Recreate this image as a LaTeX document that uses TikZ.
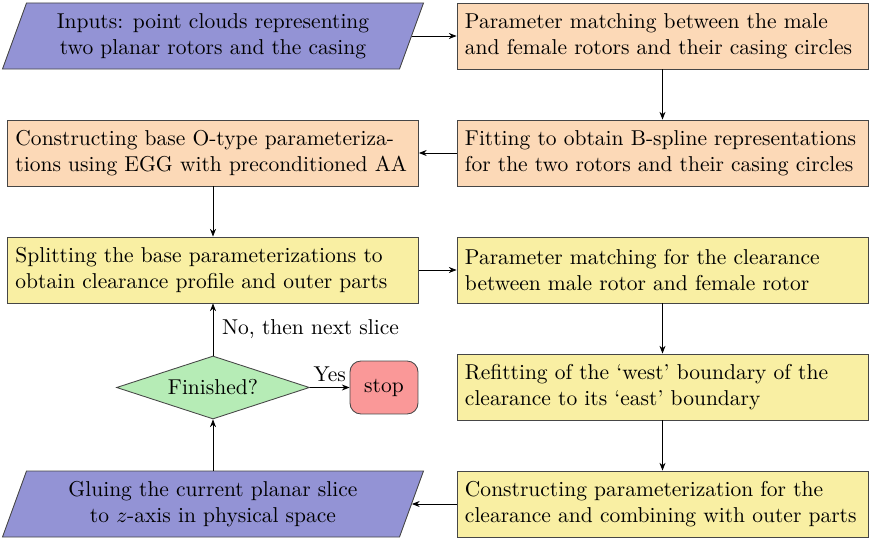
\documentclass[tikz,border=0pt]{standalone}
\usetikzlibrary{shapes.geometric,arrows.meta}
\definecolor{ioblue}{RGB}{147,147,213}
\definecolor{procorange}{RGB}{252,217,183}
\definecolor{procyellow}{RGB}{249,239,163}
\definecolor{decgreen}{RGB}{182,236,182}
\definecolor{stopred}{RGB}{250,152,152}
\definecolor{edgegray}{RGB}{70,70,70}
\tikzset{
  txt/.style={font=\fontsize{10}{12}\selectfont},
  box/.style={rectangle, draw=edgegray, minimum width=191.1pt, minimum height=30.7pt,
    text width=183.7pt, inner xsep=3.7pt, align=left, txt},
  orangebox/.style={box, fill=procorange},
  yellowbox/.style={box, fill=procyellow},
  iolabel/.style={rectangle, inner sep=0pt, minimum width=184.6pt, minimum height=30.7pt,
    align=center, txt},
  iofill/.style={draw=edgegray, fill=ioblue},
  decision/.style={diamond, draw=edgegray, fill=decgreen, aspect=3, inner sep=0pt,
    minimum width=89.7pt, minimum height=29.3pt, txt},
  stopbox/.style={rectangle, rounded corners=5pt, draw=edgegray, fill=stopred,
    minimum width=31.6pt, minimum height=24.6pt, txt},
  conn/.style={-{Stealth[length=3.6pt,width=2.8pt]}, black},
  lbl/.style={txt}
}
\begin{document}
\begin{tikzpicture}[x=0.465pt, y=-0.465pt]
\useasboundingbox (0,0) rectangle (870,543);
% input parallelogram
\filldraw[iofill] (2.5,69) -- (26.5,3) -- (423.5,3) -- (399.5,69) -- cycle;
\node[iolabel] (in) at (213,36) {Inputs: point clouds representing\\two planar rotors and the casing};
% gluing parallelogram
\filldraw[iofill] (2.5,537) -- (26.5,471) -- (423.5,471) -- (399.5,537) -- cycle;
\node[iolabel] (glue) at (213,504) {Gluing the current planar slice\\to $z$-axis in physical space};

\node[orangebox] (b2) at (662.5,36) {Parameter matching between the male\\and female rotors and their casing circles};
\node[orangebox] (b3) at (662.5,153) {Fitting to obtain B-spline representations\\for the two rotors and their casing circles};
\node[orangebox] (b4) at (213,153) {Constructing base O-type parameteriza-\\tions using EGG with preconditioned AA};
\node[yellowbox] (b5) at (213,270) {Splitting the base parameterizations to\\obtain clearance profile and outer parts};
\node[yellowbox] (b6) at (662.5,270) {Parameter matching for the clearance\\between male rotor and female rotor};
\node[yellowbox] (b7) at (662.5,387) {Refitting of the `west' boundary of the\\clearance to its `east' boundary};
\node[yellowbox] (b8) at (662.5,504) {Constructing parameterization for the\\clearance and combining with outer parts};

\node[decision] (dec) at (213,387.5) {Finished?};
\node[stopbox] (stp) at (384,387.5) {stop};

\draw[conn] (in.east) -- (b2.west);
\draw[conn] (b2.south) -- (b3.north);
\draw[conn] (b3.west) -- (b4.east);
\draw[conn] (b4.south) -- (b5.north);
\draw[conn] (b5.east) -- (b6.west);
\draw[conn] (b6.south) -- (b7.north);
\draw[conn] (b7.south) -- (b8.north);
\draw[conn] (b8.west) -- (glue.east);
\draw[conn] (glue.north) -- (dec.south);
\draw[conn] (dec.north) -- node[midway, right, lbl, inner xsep=4pt] {No, then next slice} (b5.south);
\draw[conn] (dec.east) -- node[midway, above, lbl, inner sep=2.5pt] {Yes} (stp.west);
\end{tikzpicture}
\end{document}
